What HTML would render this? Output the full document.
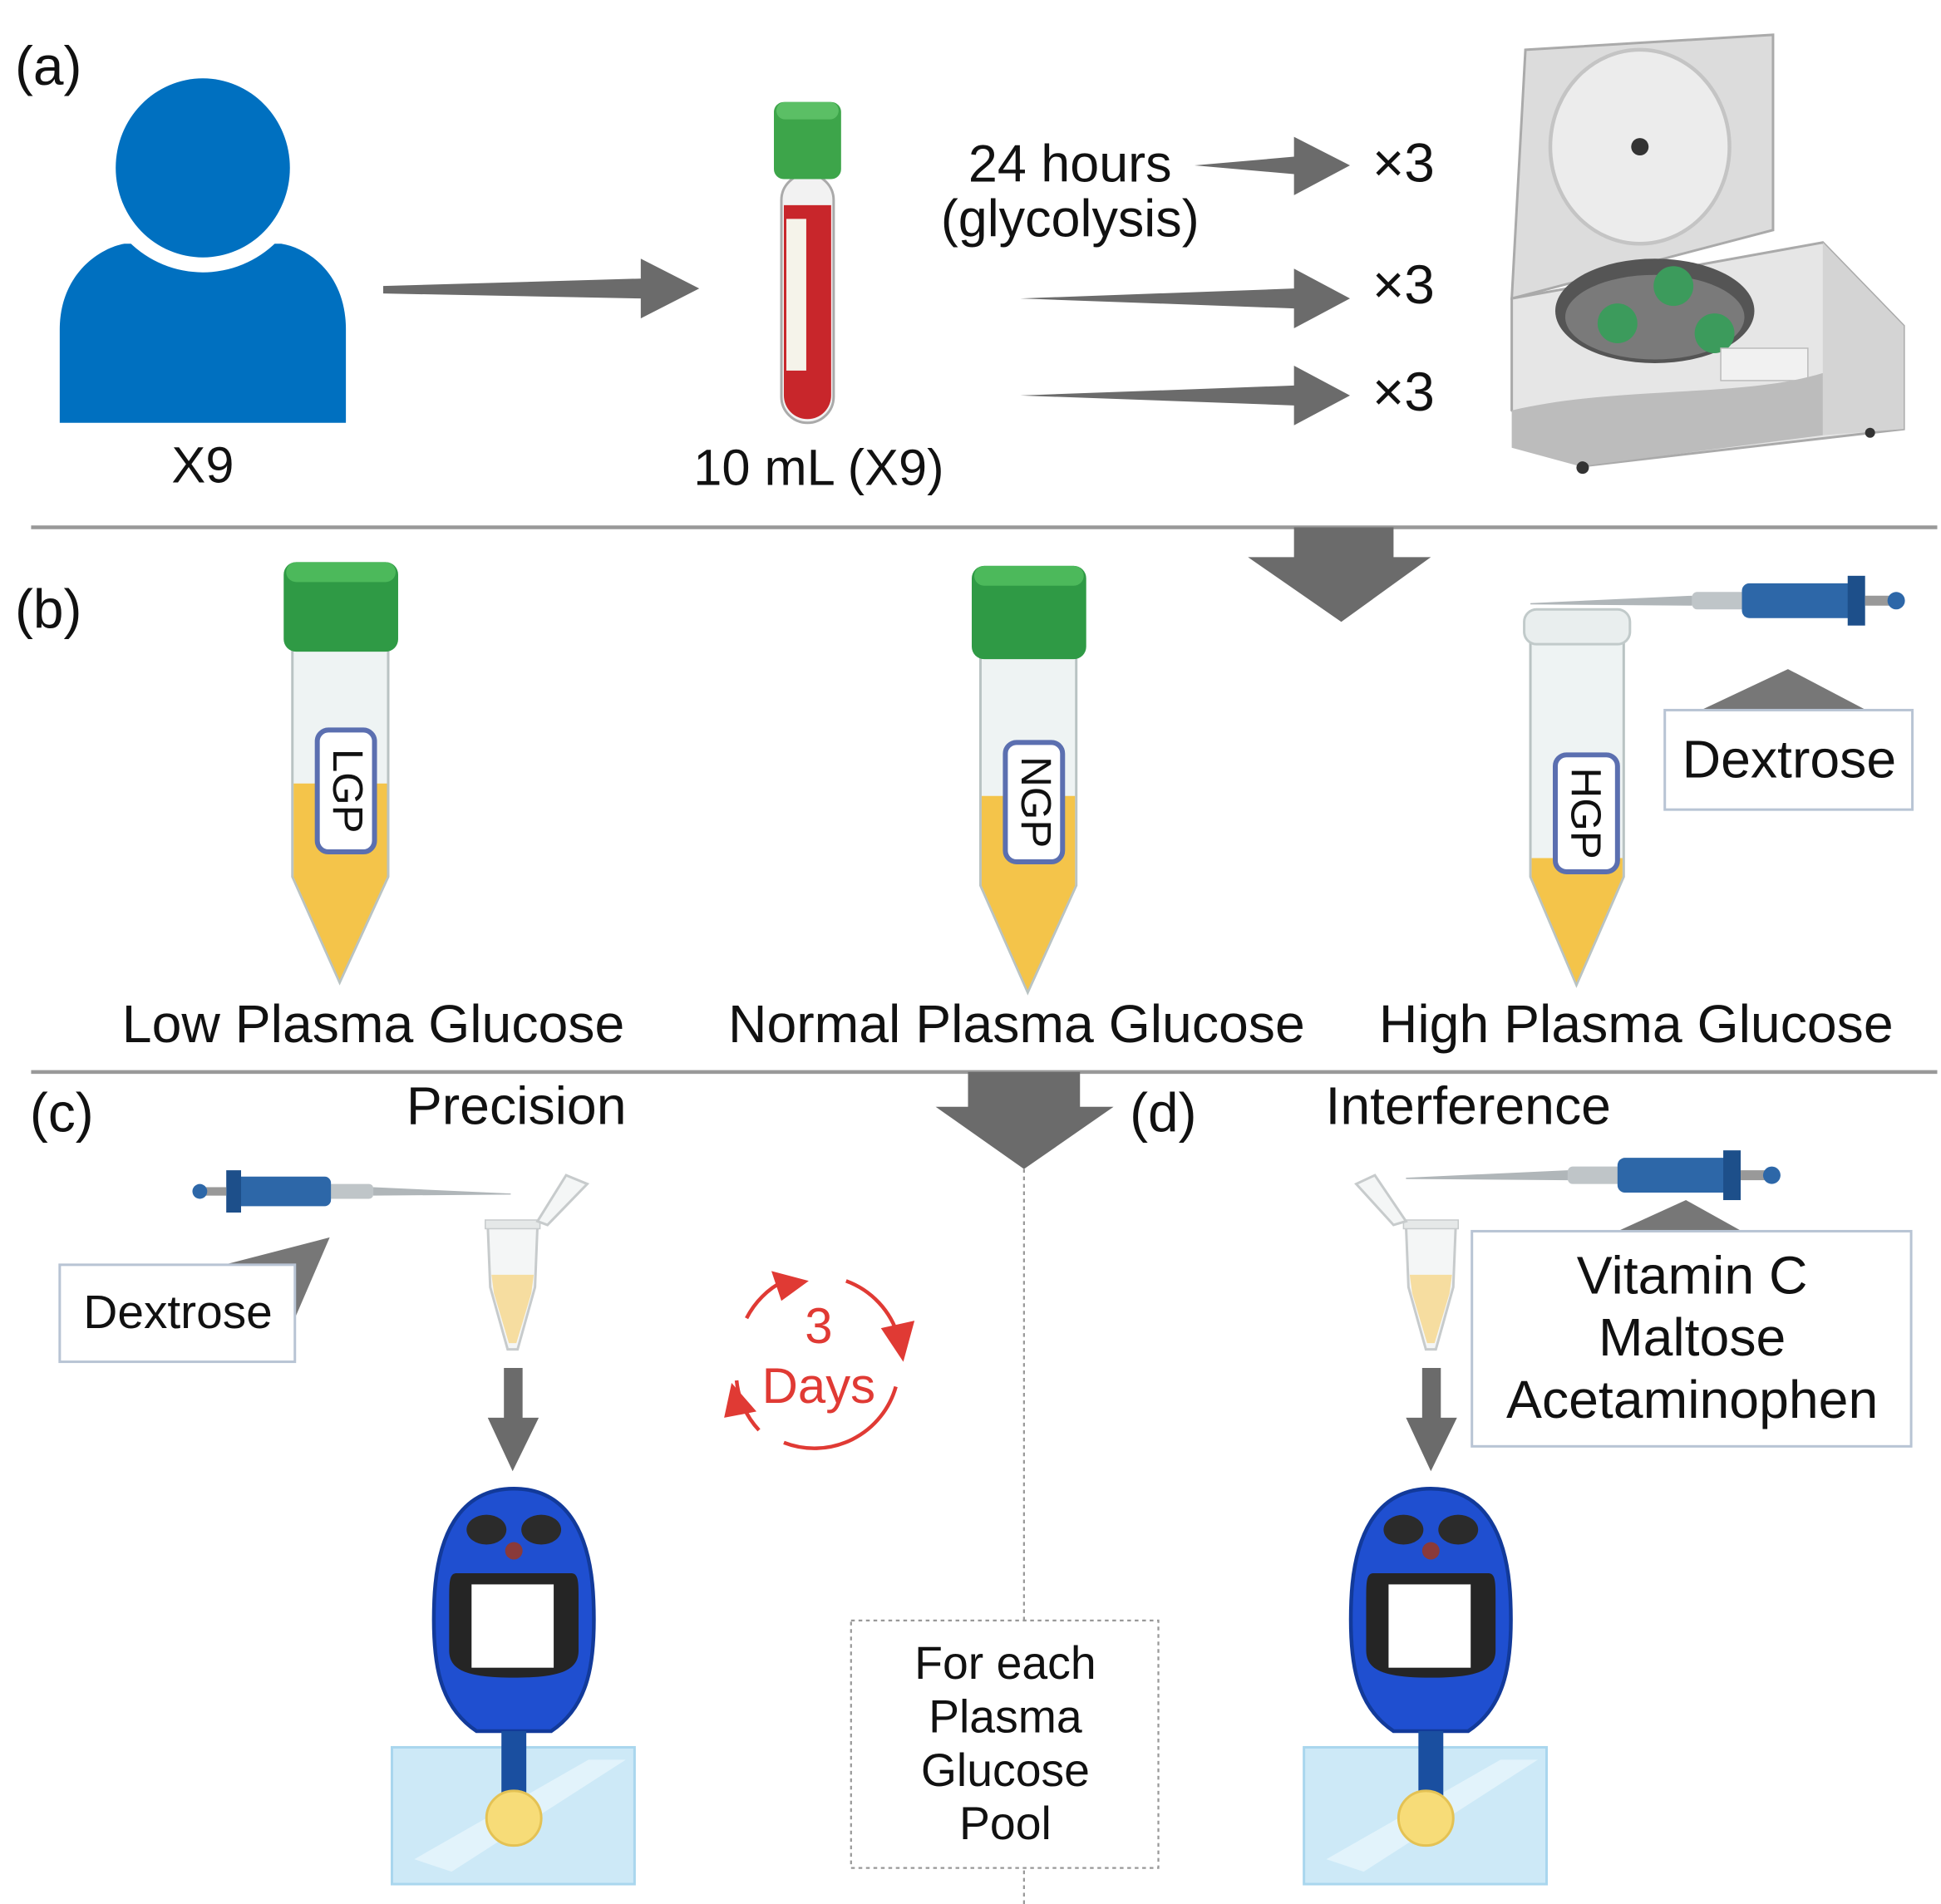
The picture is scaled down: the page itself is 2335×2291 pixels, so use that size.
<!DOCTYPE html>
<html><head><meta charset="utf-8"><style>
html,body{margin:0;padding:0;background:#fff}
svg{display:block}
text{font-family:"Liberation Sans",sans-serif;fill:#111}
</style></head><body>
<svg width="2335" height="2291" viewBox="0 0 1560 1531" preserveAspectRatio="none" xmlns="http://www.w3.org/2000/svg">
<defs>
<g id="meter">
<path d="M0,0 C45,0 62,40 64,90 C66,140 60,175 30,195 L-30,195 C-60,175 -66,140 -64,90 C-62,40 -45,0 0,0Z" fill="#1f4fd0" stroke="#123a9a" stroke-width="3"/>
<ellipse cx="-22" cy="33" rx="16" ry="12" fill="#2b2b2b"/>
<ellipse cx="22" cy="33" rx="16" ry="12" fill="#2b2b2b"/>
<circle cx="0" cy="50" r="7" fill="#8a3a3a"/>
<path d="M-46,68 L46,68 C52,68 52,75 52,90 L52,130 C52,145 40,152 0,152 C-40,152 -52,145 -52,130 L-52,90 C-52,75 -52,68 -46,68Z" fill="#252525"/>
<rect x="-34" y="77" width="66" height="67" fill="#fff"/>
<rect x="-10" y="195" width="20" height="65" fill="#1a4fa0"/>
</g>
<g id="pad">
<rect x="-98" y="0" width="195" height="110" fill="#cde9f7" stroke="#a9d6ee" stroke-width="2"/>
<path d="M-80,90 L60,10 L90,10 L-50,100Z" fill="#e2f3fb"/>
</g>
<g id="epp">
<path d="M-20,0 L20,0 L18,50 L4,100 L-4,100 L-18,50Z" fill="#f4f6f6" stroke="#c7cbcc" stroke-width="2"/>
<path d="M-17,40 L17,40 L15,55 L3,95 L-3,95 L-15,55Z" fill="#f6dda0"/>
<rect x="-22" y="-4" width="44" height="7" fill="#e5e8e8" stroke="#c7cbcc"/>
</g>
<g id="pip">
<rect x="0" y="-7" width="50" height="14" rx="4" fill="#bfc5c8"/>
<rect x="40" y="-14" width="95" height="28" rx="6" fill="#2d67a8"/>
<rect x="125" y="-20" width="14" height="40" fill="#1d4f8a"/>
<rect x="139" y="-4" width="20" height="8" fill="#999"/>
<circle cx="164" cy="0" r="7" fill="#2d67a8"/>
<path d="M0,-4 L-130,2 L-130,3 L0,4Z" fill="#b0b6b9"/>
</g>
</defs>

<!-- (a) -->
<text x="12" y="68" font-size="44">(a)</text>
<path d="M48,340 V265 C48,222 78,200 100,196 L226,196 C250,200 278,222 278,265 V340Z" fill="#0070c0"/>
<circle cx="163" cy="135" r="84" fill="#fff"/>
<ellipse cx="163" cy="135" rx="70" ry="72" fill="#0070c0"/>
<text x="163" y="388" font-size="41" text-anchor="middle">X9</text>
<polygon points="308,230 515,224 515,208 562,232 515,256 515,240 308,236" fill="#6b6b6b"/>

<rect x="628" y="140" width="42" height="200" rx="21" fill="#f2f2f2" stroke="#aaa" stroke-width="2"/>
<path d="M630,165 H668 V318 A19,19 0 0 1 630,318Z" fill="#c8262b"/>
<rect x="632" y="176" width="16" height="122" fill="#f5f3ea"/>
<rect x="622" y="82" width="54" height="62" rx="8" fill="#3da54a"/>
<rect x="624" y="82" width="50" height="14" rx="7" fill="#5bbf65"/>
<text x="658" y="390" font-size="41" text-anchor="middle">10 mL (X9)</text>

<text x="860" y="146" font-size="42" text-anchor="middle">24 hours</text>
<text x="860" y="190" font-size="42" text-anchor="middle">(glycolysis)</text>
<polygon points="960,133 1040,126 1040,110 1085,133 1040,157 1040,140" fill="#6b6b6b"/>
<polygon points="820,240 1040,232 1040,216 1085,240 1040,264 1040,248" fill="#6b6b6b"/>
<polygon points="820,318 1040,310 1040,294 1085,318 1040,342 1040,326" fill="#6b6b6b"/>
<text x="1128" y="146" font-size="44" text-anchor="middle">×3</text>
<text x="1128" y="244" font-size="44" text-anchor="middle">×3</text>
<text x="1128" y="330" font-size="44" text-anchor="middle">×3</text>

<!-- centrifuge -->
<polygon points="1226,40 1425,28 1425,185 1215,240" fill="#dcdcdc" stroke="#aaa" stroke-width="2"/>
<ellipse cx="1318" cy="118" rx="72" ry="78" fill="#ececec" stroke="#c4c4c4" stroke-width="3"/>
<circle cx="1318" cy="118" r="7" fill="#333"/>
<polygon points="1215,240 1465,195 1530,262 1530,345 1270,375 1215,330" fill="#e6e6e6" stroke="#aaa" stroke-width="2"/>
<polygon points="1465,195 1530,262 1530,345 1465,350" fill="#d4d4d4"/>
<ellipse cx="1330" cy="250" rx="80" ry="42" fill="#555"/>
<ellipse cx="1330" cy="255" rx="72" ry="34" fill="#7a7a7a"/>
<circle cx="1300" cy="260" r="16" fill="#3c9b5c"/><circle cx="1345" cy="230" r="16" fill="#3c9b5c"/><circle cx="1378" cy="268" r="16" fill="#3c9b5c"/>
<rect x="1383" y="280" width="70" height="26" fill="#f1f1f1" stroke="#bbb"/>
<path d="M1215,330 C1300,310 1400,320 1465,300 L1465,350 1270,375 1215,360Z" fill="#bcbcbc"/>
<circle cx="1272" cy="376" r="5" fill="#333"/><circle cx="1503" cy="348" r="4" fill="#333"/>

<line x1="25" y1="424" x2="1557" y2="424" stroke="#999" stroke-width="3"/>
<polygon points="1040,424 1120,424 1120,448 1150,448 1078,500 1003,448 1040,448" fill="#6b6b6b"/>

<!-- (b) -->
<text x="12" y="505" font-size="44">(b)</text>
<path d="M235,520 H312 V705 L273,790 L235,705Z" fill="#eef3f3" stroke="#b9c3c3" stroke-width="2"/>
<path d="M236,630 H311 V705 L273,788 L236,705Z" fill="#f4c44a"/>
<rect x="228" y="452" width="92" height="72" rx="10" fill="#2f9a45"/>
<rect x="230" y="452" width="88" height="16" rx="8" fill="#4cb95b"/>
<rect x="255" y="587" width="46" height="98" rx="9" fill="#fff" stroke="#5b6fb0" stroke-width="4"/>
<text transform="translate(268,636) rotate(90)" font-size="34" text-anchor="middle">LGP</text>
<path d="M788,525 H865 V712 L826,798 L788,712Z" fill="#eef3f3" stroke="#b9c3c3" stroke-width="2"/>
<path d="M789,640 H864 V712 L826,796 L789,712Z" fill="#f4c44a"/>
<rect x="781" y="455" width="92" height="75" rx="10" fill="#2f9a45"/>
<rect x="783" y="455" width="88" height="16" rx="8" fill="#4cb95b"/>
<rect x="808" y="597" width="46" height="96" rx="9" fill="#fff" stroke="#5b6fb0" stroke-width="4"/>
<text transform="translate(821,645) rotate(90)" font-size="34" text-anchor="middle">NGP</text>
<path d="M1230,510 H1305 V705 L1267,792 L1230,705Z" fill="#eef3f3" stroke="#b9c3c3" stroke-width="2"/>
<path d="M1231,690 H1304 V705 L1267,790 L1231,705Z" fill="#f4c44a"/>
<rect x="1225" y="490" width="85" height="28" rx="10" fill="#e9eeee" stroke="#c1caca" stroke-width="2"/>
<rect x="1250" y="607" width="50" height="94" rx="9" fill="#fff" stroke="#5b6fb0" stroke-width="4"/>
<text transform="translate(1263,654) rotate(90)" font-size="34" text-anchor="middle">HGP</text>
<use href="#pip" x="1360" y="483"/>
<polygon points="1367,571 1437,538 1500,571" fill="#777"/>
<rect x="1338" y="571" width="199" height="80" fill="#fff" stroke="#b8c4d4" stroke-width="2"/>
<text x="1438" y="625" font-size="43" text-anchor="middle">Dextrose</text>
<text x="300" y="838" font-size="43" text-anchor="middle">Low Plasma Glucose</text>
<text x="817" y="838" font-size="43" text-anchor="middle">Normal Plasma Glucose</text>
<text x="1315" y="838" font-size="43" text-anchor="middle">High Plasma Glucose</text>

<line x1="25" y1="862" x2="1557" y2="862" stroke="#999" stroke-width="3"/>
<polygon points="778,862 868,862 868,890 895,890 823,940 752,890 778,890" fill="#6b6b6b"/>
<line x1="823" y1="940" x2="823" y2="1531" stroke="#999" stroke-width="1.5" stroke-dasharray="3,3"/>

<!-- (c) -->
<text x="24" y="910" font-size="44">(c)</text>
<text x="415" y="904" font-size="43" text-anchor="middle">Precision</text>
<g transform="translate(300,958) scale(-0.85,0.85)"><use href="#pip"/></g>
<use href="#epp" x="412" y="985"/>
<path d="M432,982 L455,945 L472,952 L440,985Z" fill="#f4f6f6" stroke="#c7cbcc" stroke-width="2"/>
<polygon points="180,1017 265,995 237,1060" fill="#777"/>
<rect x="48" y="1017" width="189" height="78" fill="#fff" stroke="#b8c4d4" stroke-width="2"/>
<text x="143" y="1068" font-size="38" text-anchor="middle">Dextrose</text>
<polygon points="405,1100 420,1100 420,1140 433,1140 412,1183 392,1140 405,1140" fill="#6b6b6b"/>
<use href="#pad" x="413" y="1405"/>
<use href="#meter" x="413" y="1197"/>
<circle cx="413" cy="1462" r="22" fill="#f7dc78" stroke="#e4c254" stroke-width="2"/>

<!-- 3 days -->
<g fill="none" stroke="#e03a34" stroke-width="3">
<path d="M600,1060 A68,68 0 0 1 630,1030"/>
<path d="M680,1030 A68,68 0 0 1 722,1075"/>
<path d="M720,1115 A68,68 0 0 1 630,1160"/>
<path d="M610,1150 A68,68 0 0 1 592,1110"/>
</g>
<polygon points="620,1022 650,1030 628,1046" fill="#e03a34"/>
<polygon points="708,1068 735,1062 726,1095" fill="#e03a34"/>
<polygon points="582,1140 588,1112 608,1135" fill="#e03a34"/>
<text x="658" y="1080" font-size="40" text-anchor="middle" style="fill:#e03a34">3</text>
<text x="658" y="1128" font-size="40" text-anchor="middle" style="fill:#e03a34">Days</text>

<rect x="684" y="1303" width="247" height="199" fill="#fff" stroke="#999" stroke-width="1.5" stroke-dasharray="3,3"/>
<text x="808" y="1350" font-size="37" text-anchor="middle">For each</text>
<text x="808" y="1393" font-size="37" text-anchor="middle">Plasma</text>
<text x="808" y="1436" font-size="37" text-anchor="middle">Glucose</text>
<text x="808" y="1479" font-size="37" text-anchor="middle">Pool</text>

<!-- (d) -->
<text x="908" y="910" font-size="44">(d)</text>
<text x="1180" y="904" font-size="43" text-anchor="middle">Interference</text>
<use href="#epp" x="1150" y="985"/>
<path d="M1130,982 L1105,945 L1090,952 L1120,985Z" fill="#f4f6f6" stroke="#c7cbcc" stroke-width="2"/>
<use href="#pip" x="1260" y="945"/>
<polygon points="1300,990 1355,965 1400,990" fill="#777"/>
<rect x="1183" y="990" width="353" height="173" fill="#fff" stroke="#b8c4d4" stroke-width="2"/>
<text x="1360" y="1040" font-size="43" text-anchor="middle">Vitamin C</text>
<text x="1360" y="1090" font-size="43" text-anchor="middle">Maltose</text>
<text x="1360" y="1140" font-size="43" text-anchor="middle">Acetaminophen</text>
<polygon points="1143,1100 1158,1100 1158,1140 1171,1140 1150,1183 1130,1140 1143,1140" fill="#6b6b6b"/>
<use href="#pad" x="1146" y="1405"/>
<use href="#meter" x="1150" y="1197"/>
<circle cx="1146" cy="1462" r="22" fill="#f7dc78" stroke="#e4c254" stroke-width="2"/>
</svg>
</body></html>
